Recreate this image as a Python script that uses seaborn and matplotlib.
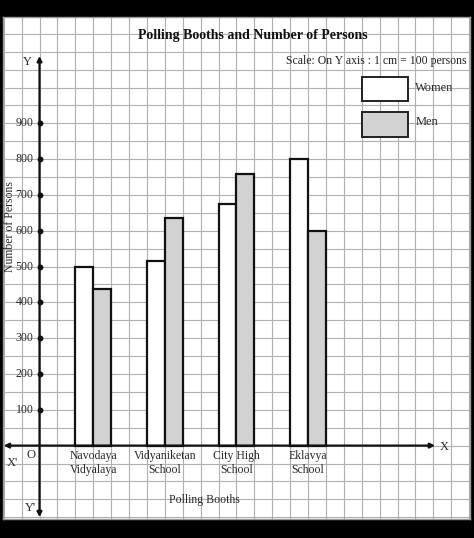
import matplotlib
matplotlib.use("Agg")
import matplotlib.pyplot as plt
from matplotlib.patches import Rectangle
import seaborn as sns
import pandas as pd
import numpy as np

# ---- data ----
booths = ["Navodaya\nVidyalaya", "Vidyaniketan\nSchool", "City High\nSchool", "Eklavya\nSchool"]
women = [500, 516, 676, 800]
men = [437, 635, 758, 600]
y_ticks = [100, 200, 300, 400, 500, 600, 700, 800, 900]

df = pd.DataFrame({
    "booth": booths * 2,
    "gender": ["Women"] * 4 + ["Men"] * 4,
    "persons": women + men,
})

sns.set_theme(style="white")
plt.rcParams["font.family"] = ["Liberation Serif", "DejaVu Serif"]

W, H = 474, 538
fig = plt.figure(figsize=(W / 100, H / 100), dpi=100, facecolor="black")
L, R, T, B = 3, 470, 17, 519
ax = fig.add_axes([L / W, 1 - B / H, (R - L) / W, (B - T) / H])
ax.set_facecolor("white")

# mapping: grid cell -> category coordinate
def cx(c):
    return (c - 3) / 4.0

# grid (graph paper)
xmin_c, xmax_c = -2.04, 24.05
ymin, ymax = -205, 1197
for c in range(-2, 25):
    ax.axvline(cx(c), color="#b0b0b0", lw=0.8, zorder=0)
for yv in range(-200, 1201, 50):
    ax.axhline(yv, color="#b0b0b0", lw=0.8, zorder=0)

sns.barplot(data=df, x="booth", y="persons", hue="gender",
            palette={"Women": "white", "Men": "#d2d2d2"},
            edgecolor="#111111", linewidth=1.6, width=0.5, gap=0,
            legend=False, ax=ax, zorder=3)

ax.set_xlim(cx(xmin_c), cx(xmax_c))
ax.set_ylim(ymin, ymax)
ax.set_xticks([])
ax.set_yticks([])
ax.set_xlabel("")
ax.set_ylabel("")
for s in ax.spines.values():
    s.set_color("#999999")
    s.set_linewidth(1.0)

# axes with arrows
ax.annotate("", xy=(cx(0), 1088), xytext=(cx(0), -200),
            arrowprops=dict(arrowstyle="<|-|>", lw=1.6, color="#111111",
                            mutation_scale=7, shrinkA=0, shrinkB=0), zorder=4)
ax.annotate("", xy=(cx(22.1), 0), xytext=(cx(-2.0), 0),
            arrowprops=dict(arrowstyle="<|-|>", lw=1.6, color="#111111",
                            mutation_scale=7, shrinkA=0, shrinkB=0), zorder=4)

# tick dots and labels
ax.plot([cx(0)] * len(y_ticks), y_ticks, "o", color="#111111", ms=3.2, zorder=5)
for yv in y_ticks:
    ax.text(cx(-0.33), yv, str(yv), ha="right", va="center",
            fontsize=8.5, color="#2a2a2a", zorder=5)

# booth labels
for i, b in enumerate(booths):
    ax.text(i, -12, b, ha="center", va="top", fontsize=8.5,
            color="#2a2a2a", linespacing=1.25, zorder=5)

ax.text(cx(-0.7), 1072, "Y", ha="center", va="center", fontsize=9, color="#2a2a2a")
ax.text(cx(-0.5), -175, "Y'", ha="center", va="center", fontsize=9, color="#2a2a2a")
ax.text(cx(-1.5), -48, "X'", ha="center", va="center", fontsize=9, color="#2a2a2a")
ax.text(cx(-0.5), -26, "O", ha="center", va="center", fontsize=9, color="#2a2a2a")
ax.text(cx(22.6), -4, "X", ha="center", va="center", fontsize=9, color="#2a2a2a")
ax.text(cx(-1.65), 611, "Number of Persons", rotation=90, ha="center",
        va="center", fontsize=8.5, color="#2a2a2a")
ax.text(cx(9.2), -152, "Polling Booths", ha="center", va="center",
        fontsize=8.5, color="#2a2a2a")

# title and scale
ax.text(cx(11.9), 1144, "Polling Booths and Number of Persons", ha="center",
        va="center", fontsize=10, fontweight="bold", color="#111111")
ax.text(cx(23.85), 1073, "Scale: On Y axis : 1 cm = 100 persons",
        ha="right", va="center", fontsize=8.5, color="#222222")

# legend boxes
ax.add_patch(Rectangle((cx(18.0), 963), cx(20.6) - cx(18.0), 67,
                       facecolor="white", edgecolor="#222222", lw=1.4, zorder=4))
ax.add_patch(Rectangle((cx(18.0), 862), cx(20.6) - cx(18.0), 70,
                       facecolor="#d2d2d2", edgecolor="#222222", lw=1.4, zorder=4))
ax.text(cx(21.0), 1000, "Women", ha="left", va="center", fontsize=9,
        color="#2a2a2a", zorder=5)
ax.text(cx(21.0), 905, "Men", ha="left", va="center", fontsize=9,
        color="#2a2a2a", zorder=5)

fig.savefig("out.png", dpi=100, facecolor="black")
